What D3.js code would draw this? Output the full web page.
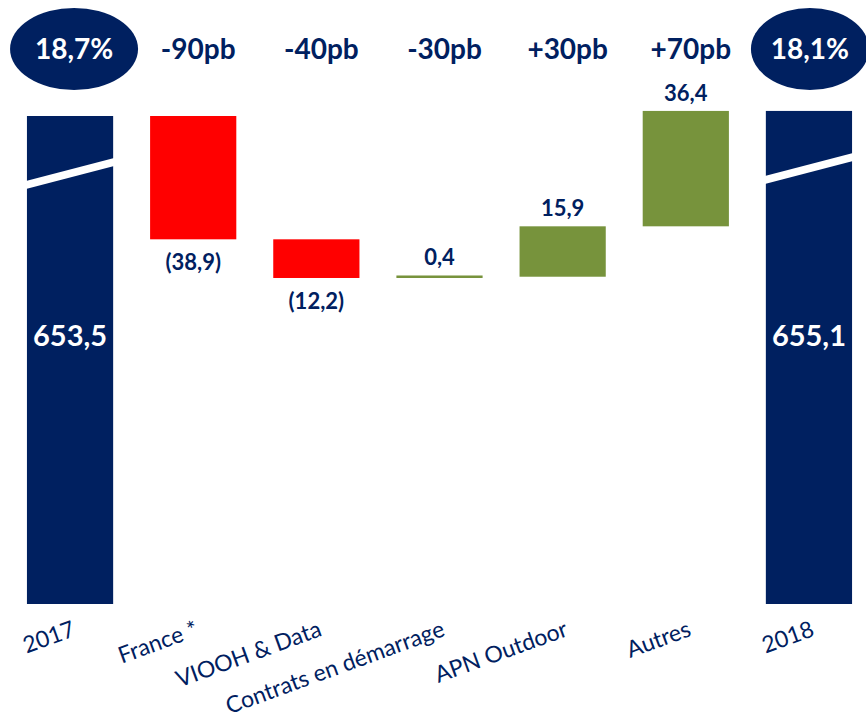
<!DOCTYPE html>
<html><head><meta charset="utf-8">
<script src="https://cdn.jsdelivr.net/npm/d3@7"></script>
<style>body{margin:0;background:#fff;}svg{display:block;font-family:Lato,"Open Sans",sans-serif;}</style>
</head><body>
<svg id="c" width="866" height="718"></svg>
<script>
const categories = ["2017","France *","VIOOH & Data","Contrats en démarrage","APN Outdoor","Autres","2018"];
const kinds = ["total","delta","delta","delta","delta","delta","total"];
const values = [653.5, -38.9, -12.2, 0.4, 15.9, 36.4, 655.1];
const valueLabels = ["653,5","(38,9)","(12,2)","0,4","15,9","36,4","655,1"];
const marginLabels = ["18,7%","-90pb","-40pb","-30pb","+30pb","+70pb","18,1%"];

const NAVY="#002060", RED="#FF0000", GREEN="#77933C";
const svg = d3.select("#c");
const x = d3.scaleBand().domain(categories).range([-10, 889]).paddingInner(0.3).paddingOuter(0.3);
const pxPerUnit = 3.17, topY = 116;
const y = d3.scaleLinear().domain([600, 660]).range([topY + (653.5-600)*pxPerUnit, topY - (660-653.5)*pxPerUnit]);
const bottomY = 604;

let run = 0;
const bars = categories.map((c,i)=>{
  let start, end;
  if (kinds[i]==="total"){ start=null; end=values[i]; run=values[i]; }
  else { start=run; end=run+values[i]; run=end; }
  return {c,i,start,end,v:values[i],kind:kinds[i]};
});

const g = svg.append("g");
bars.forEach(b=>{
  const x0 = x(b.c), w = x.bandwidth();
  if (b.kind==="total"){
    const yt = y(b.end);
    g.append("rect").attr("x",x0).attr("y",yt).attr("width",w).attr("height",bottomY-yt).attr("fill",NAVY);
    const yl = yt + 65, yr = yt + 42, t = 8;
    g.append("path").attr("d",`M${x0-1},${yl} L${x0+w+1},${yr} L${x0+w+1},${yr+t} L${x0-1},${yl+t} Z`).attr("fill","#fff");
    g.append("text").attr("x",x0+w/2).attr("y",336).attr("dy","0.36em").attr("text-anchor","middle")
      .attr("fill","#fff").attr("font-weight","bold").attr("font-size",29).text(valueLabels[b.i]);
  } else {
    const y1 = y(Math.max(b.start,b.end)), y2 = y(Math.min(b.start,b.end));
    const h = Math.max(y2-y1, 2.5);
    g.append("rect").attr("x",x0).attr("y",b.v<0?y1:y2-h).attr("width",w).attr("height",h)
      .attr("fill", b.v<0?RED:GREEN);
    const ly = b.v<0 ? y2 + 23 : y2 - h - 18;
    g.append("text").attr("x",x0+w/2).attr("y",ly).attr("dy","0.36em").attr("text-anchor","middle")
      .attr("fill",NAVY).attr("font-weight","bold").attr("font-size",22).text(valueLabels[b.i]);
  }
  const cx = x0 + w/2;
  if (b.kind==="total"){
    const ex = b.i===0?cx+4:cx+1;
    g.append("ellipse").attr("cx",ex).attr("cy",49).attr("rx",b.i===0?64:59).attr("ry",41).attr("fill",NAVY);
    g.append("text").attr("x",ex).attr("y",49).attr("dy","0.36em").attr("text-anchor","middle")
      .attr("fill","#fff").attr("font-weight","bold").attr("font-size",28).text(marginLabels[b.i]);
  } else {
    g.append("text").attr("x",cx+5).attr("y",49).attr("dy","0.36em").attr("text-anchor","middle")
      .attr("fill",NAVY).attr("font-weight","bold").attr("font-size",28).text(marginLabels[b.i]);
  }
  g.append("text").attr("transform",`translate(${cx+1},${620}) rotate(-20)`).attr("dy","0.71em")
    .attr("text-anchor","end").attr("fill",NAVY).attr("font-size",23).text(b.c);
});
</script>
</body></html>
